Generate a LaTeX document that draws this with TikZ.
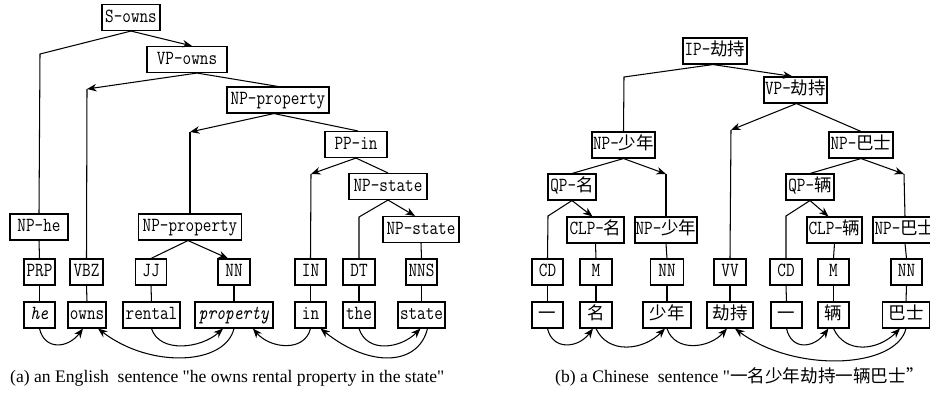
\documentclass[tikz,border=0pt]{standalone}
\usepackage{fontspec}
\setmainfont{Liberation Serif}
\newfontfamily\labf[FakeStretch=0.835]{Latin Modern Mono}
\newfontfamily\cjkf{Noto Sans CJK SC}
\newcommand\zh[1]{{\cjkf\fontsize{17.5}{20}\selectfont #1}}
\usetikzlibrary{arrows.meta}
\begin{document}
\begin{tikzpicture}[x=1pt,y=-1pt,
  lab/.style={draw,line width=1.1pt,inner sep=0pt,minimum height=26pt,
    text height=13pt,text depth=4pt,font=\labf\fontsize{20}{22}\selectfont},
  con/.style={line width=1.05pt},
  arr/.style={con,-{Stealth[length=9.5pt,width=7.5pt,inset=3pt]}},
  captext/.style={font=\fontsize{17.6}{20}\selectfont,anchor=base west,inner sep=0pt}]
\useasboundingbox (0,0) rectangle (930,392);

% ---------------- English tree ----------------
\node[lab,minimum width=58pt]  (s)    at (131,17.5)  {S-owns};
\node[lab,minimum width=80pt]  (vp)   at (187,59.5)  {VP-owns};
\node[lab,minimum width=102pt] (np1)  at (278,100)   {NP-property};
\node[lab,minimum width=62pt]  (pp)   at (356,144.5) {PP-in};
\node[lab,minimum width=78pt]  (nps1) at (388,186.5) {NP-state};
\node[lab,minimum width=76pt]  (nps2) at (421,229.5) {NP-state};
\node[lab,minimum width=58pt]  (nphe) at (39,227)    {NP-he};
\node[lab,minimum width=103pt] (npp2) at (190,227)   {NP-property};

\node[lab,minimum width=31pt] (prp) at (39.5,272) {PRP};
\node[lab,minimum width=33pt] (vbz) at (86.5,272) {VBZ};
\node[lab,minimum width=31pt] (jj)  at (151,272)  {JJ};
\node[lab,minimum width=32pt] (nn)  at (234,272)  {NN};
\node[lab,minimum width=31pt] (inp) at (310.5,272) {IN};
\node[lab,minimum width=32pt] (dt)  at (359,272)  {DT};
\node[lab,minimum width=31pt] (nns) at (421.5,272) {NNS};

\node[lab,minimum width=31pt] (he)       at (39.5,315)  {\textit{he}};
\node[lab,minimum width=38pt] (owns)     at (87,315)    {owns};
\node[lab,minimum width=57pt] (rental)   at (151.5,315) {rental};
\node[lab,minimum width=78pt] (property) at (234,315)   {\textit{property}};
\node[lab,minimum width=31pt] (inw)      at (310.5,315) {in};
\node[lab,minimum width=32pt] (the)      at (359,315)   {the};
\node[lab,minimum width=47pt] (state)    at (421.5,315) {state};

\coordinate (e1) at (40,54);
\coordinate (e2) at (87,89);
\coordinate (e3) at (190,132);
\coordinate (e4) at (311,174);
\coordinate (e5) at (359,217);

\draw[con] (s.south) -- (e1) -- (nphe.north);
\draw[arr] (s.south) -- ([xshift=5pt]vp.north);
\draw[arr] ([xshift=10pt]vp.south) -- (e2);
\draw[con] (e2) -- (vbz.north);
\draw[con] ([xshift=10pt]vp.south) -- (np1.north);
\draw[arr] ([xshift=-4pt]np1.south) -- (e3);
\draw[con] (e3) -- (npp2.north);
\draw[con] ([xshift=-4pt]np1.south) -- ([xshift=2pt]pp.north);
\draw[arr] (pp.south) -- (e4);
\draw[con] (e4) -- (inp.north);
\draw[con] (pp.south) -- (nps1.north);
\draw[con] (nps1.south) -- (e5) -- (dt.north);
\draw[arr] (nps1.south) -- ([xshift=-6pt]nps2.north);
\draw[con] (nps2.south) -- (nns.north);
\draw[con] (nphe.south) -- (prp.north);
\draw[con] ([xshift=-2pt]npp2.south) -- (jj.north);
\draw[arr] ([xshift=-2pt]npp2.south) -- ([xshift=-6pt]nn.north);

\draw[con] (prp.south) -- (he.north);
\draw[con] (vbz.south) -- (owns.north);
\draw[con] (jj.south) -- (rental.north);
\draw[con] (nn.south) -- (property.north);
\draw[con] (inp.south) -- (inw.north);
\draw[con] (dt.south) -- (the.north);
\draw[con] (nns.south) -- (state.north);

% dependency arcs (English)
\draw[arr] (he.south) .. controls +(5,22) and +(-15,20) .. ([xshift=-4pt]owns.south);
\draw[arr] (rental.south) .. controls +(8,25) and +(-22,20) .. ([xshift=-11pt]property.south);
\draw[arr] (property.south) .. controls +(-9,37) and +(52,40) .. ([xshift=11pt]owns.south);
\draw[arr] (inw.south) .. controls +(-6,24) and +(17,20) .. ([xshift=19pt]property.south);
\draw[arr] (the.south) .. controls +(8,25) and +(-20,20) .. ([xshift=-1pt]state.south);
\draw[arr] ([xshift=6pt]state.south) .. controls +(-9,37) and +(50,40) .. ([xshift=10pt]inw.south);

% ---------------- Chinese tree ----------------
\node[lab,minimum width=64pt] (ip)    at (715,51)    {IP-\zh{劫持}};
\node[lab,minimum width=63pt] (vpc)   at (795.5,90)  {VP-\zh{劫持}};
\node[lab,minimum width=64pt] (npbs)  at (861,145)   {NP-\zh{巴士}};
\node[lab,minimum width=63pt] (npsn)  at (623.5,145) {NP-\zh{少年}};
\node[lab,minimum width=48pt] (qpm)   at (572,187)   {QP-\zh{名}};
\node[lab,minimum width=48pt] (qpl)   at (810,187)   {QP-\zh{辆}};
\node[lab,minimum width=57pt] (clpm)  at (595.5,230) {CLP-\zh{名}};
\node[lab,minimum width=62pt] (npsn2) at (666,230)   {NP-\zh{少年}};
\node[lab,minimum width=55pt] (clpl)  at (834.5,230) {CLP-\zh{辆}};
\node[lab,minimum width=64pt] (npbs2) at (905,230)   {NP-\zh{巴士}};

\node[lab,minimum width=31pt] (cd1) at (547.5,272) {CD};
\node[lab,minimum width=32pt] (m1)  at (596,272)   {M};
\node[lab,minimum width=33pt] (nn1) at (667,272)   {NN};
\node[lab,minimum width=32pt] (vv)  at (730,272)   {VV};
\node[lab,minimum width=32pt] (cd2) at (786,272)   {CD};
\node[lab,minimum width=31pt] (m2)  at (833.5,272) {M};
\node[lab,minimum width=31pt] (nn2) at (906.5,272) {NN};

\node[lab,minimum width=31pt] (yi1)      at (547.5,315) {\zh{一}};
\node[lab,minimum width=32pt] (ming)     at (596,315)   {\zh{名}};
\node[lab,minimum width=48pt] (shaonian) at (667,315)   {\zh{少年}};
\node[lab,minimum width=46pt] (jiechi)   at (730,315)   {\zh{劫持}};
\node[lab,minimum width=31pt] (yi2)      at (786.5,315) {\zh{一}};
\node[lab,minimum width=31pt] (liang)    at (833.5,315) {\zh{辆}};
\node[lab,minimum width=47pt] (bashi)    at (906,315)   {\zh{巴士}};

\coordinate (k1) at (624,77);
\coordinate (k2) at (731,130);
\coordinate (k3) at (666,174);
\coordinate (k4) at (548,216);
\coordinate (k5) at (904,174);
\coordinate (k6) at (786,216);

\draw[con] ([xshift=-2pt]ip.south) -- (k1) -- (npsn.north);
\draw[arr] ([xshift=-2pt]ip.south) -- ([xshift=-3pt]vpc.north);
\draw[arr] ([xshift=1pt]vpc.south) -- (k2);
\draw[con] (k2) -- (vv.north);
\draw[con] ([xshift=1pt]vpc.south) -- (npbs.north);
\draw[con] (npsn.south) -- (qpm.north);
\draw[arr] (npsn.south) -- (k3);
\draw[con] (k3) -- (npsn2.north);
\draw[con] (qpm.south) -- (k4) -- (cd1.north);
\draw[arr] (qpm.south) -- ([xshift=-3pt]clpm.north);
\draw[con] (npbs.south) -- (qpl.north);
\draw[arr] (npbs.south) -- (k5);
\draw[con] (k5) -- (npbs2.north);
\draw[con] (qpl.south) -- (k6) -- (cd2.north);
\draw[arr] (qpl.south) -- ([xshift=-6pt]clpl.north);

\draw[con] (clpm.south) -- (m1.north);
\draw[con] (npsn2.south) -- (nn1.north);
\draw[con] (clpl.south) -- (m2.north);
\draw[con] (npbs2.south) -- (nn2.north);
\draw[con] (cd1.south) -- (yi1.north);
\draw[con] (m1.south) -- (ming.north);
\draw[con] (nn1.south) -- (shaonian.north);
\draw[con] (vv.south) -- (jiechi.north);
\draw[con] (cd2.south) -- (yi2.north);
\draw[con] (m2.south) -- (liang.north);
\draw[con] (nn2.south) -- (bashi.north);

% dependency arcs (Chinese)
\draw[arr] (yi1.south) .. controls +(5,22) and +(-15,20) .. ([xshift=-3pt]ming.south);
\draw[arr] (ming.south) .. controls +(12,26) and +(-22,22) .. ([xshift=-2pt]shaonian.south);
\draw[arr] (shaonian.south) .. controls +(8,24) and +(-18,20) .. ([xshift=-3pt]jiechi.south);
\draw[arr] (bashi.south) .. controls +(-10,40) and +(60,45) .. ([xshift=5pt]jiechi.south);
\draw[arr] (yi2.south) .. controls +(5,22) and +(-15,20) .. ([xshift=-5pt]liang.south);
\draw[arr] (liang.south) .. controls +(12,26) and +(-22,22) .. ([xshift=-6pt]bashi.south);

% captions
\node[captext] (capa) at (10,382) {(a) an English\ \ sentence \textquotedbl he owns rental property in the state\textquotedbl};
\node[captext] (capb) at (555,382) {(b) a Chinese\ \ sentence \textquotedbl{\cjkf 一名少年劫持一辆巴士”}};
\end{tikzpicture}
\end{document}
